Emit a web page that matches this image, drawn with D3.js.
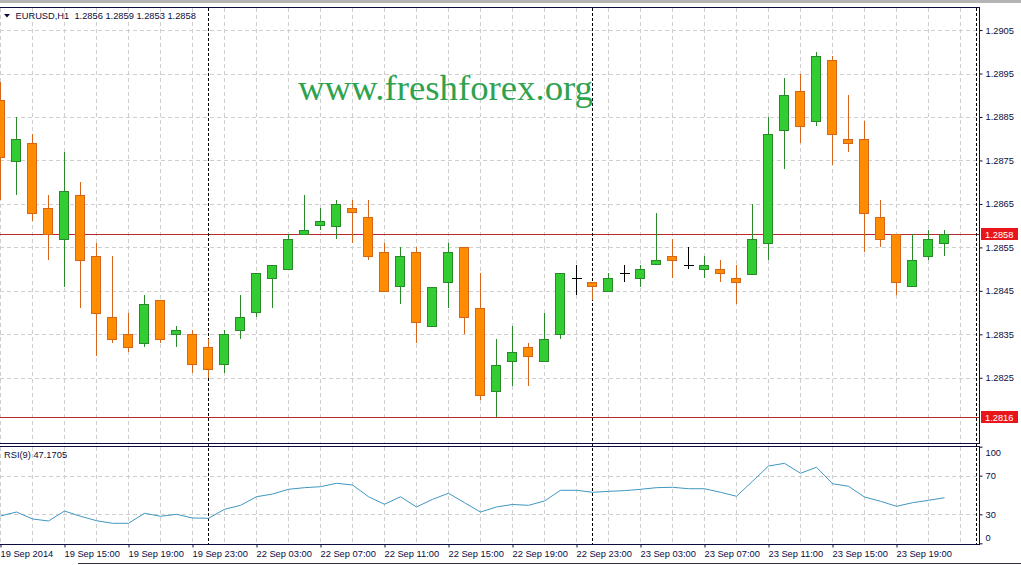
<!DOCTYPE html>
<html>
<head>
<meta charset="utf-8">
<script src="https://cdn.jsdelivr.net/npm/d3@7"></script>
<style>
  html, body { margin: 0; padding: 0; background: #fff; }
  svg { display: block; font-family: "Liberation Sans", Arial, sans-serif; }
</style>
</head>
<body>
<div id="chart"></div>
<script>
// EURUSD H1, 19 Sep 2014 11:00 .. 23 Sep 2014 22:00 (one value per candle)
const open = [1.2889, 1.2875, 1.2879, 1.2864, 1.2857, 1.2867, 1.2853, 1.2839, 1.2835, 1.2833,
  1.2843, 1.2835, 1.2835, 1.2832, 1.2828, 1.2836, 1.2840, 1.2848, 1.2850, 1.2858,
  1.2860, 1.2860, 1.2864, 1.2862, 1.2854, 1.2846, 1.2854, 1.2837, 1.2847, 1.2855,
  1.2841, 1.2822, 1.2829, 1.2832, 1.2829, 1.2835, 1.2848, 1.2847, 1.2845, 1.2849,
  1.2848, 1.2851, 1.2853, 1.2851, 1.2850, 1.2850, 1.2848, 1.2849, 1.2856, 1.2882,
  1.2891, 1.2884, 1.2898, 1.2880, 1.2880, 1.2862, 1.2858, 1.2846, 1.2853, 1.2856];
const high = [1.2893, 1.2885, 1.2881, 1.2867, 1.2877, 1.2870, 1.2856, 1.2853, 1.2840, 1.2844,
  1.2843, 1.2837, 1.2836, 1.2834, 1.2836, 1.2844, 1.2849, 1.2851, 1.2858, 1.2867,
  1.2864, 1.2866, 1.2866, 1.2866, 1.2856, 1.2855, 1.2855, 1.2846, 1.2856, 1.2855,
  1.2849, 1.2834, 1.2837, 1.2833, 1.2840, 1.2849, 1.2851, 1.2847, 1.2849, 1.2851,
  1.2851, 1.2863, 1.2857, 1.2855, 1.2853, 1.2852, 1.2851, 1.2865, 1.2885, 1.2894,
  1.2895, 1.2900, 1.2899, 1.2890, 1.2884, 1.2866, 1.2858, 1.2858, 1.2859, 1.2859];
const low = [1.2866, 1.2867, 1.2861, 1.2852, 1.2846, 1.2841, 1.2830, 1.2833, 1.2831, 1.2832,
  1.2833, 1.2832, 1.2826, 1.2825, 1.2826, 1.2834, 1.2839, 1.2841, 1.2850, 1.2858,
  1.2859, 1.2857, 1.2856, 1.2852, 1.2845, 1.2842, 1.2833, 1.2837, 1.2841, 1.2835,
  1.2820, 1.2816, 1.2823, 1.2823, 1.2829, 1.2834, 1.2844, 1.2843, 1.2845, 1.2847,
  1.2846, 1.2851, 1.2848, 1.2850, 1.2848, 1.2847, 1.2842, 1.2849, 1.2852, 1.2873,
  1.2879, 1.2883, 1.2874, 1.2877, 1.2854, 1.2855, 1.2844, 1.2846, 1.2852, 1.2853];
const close = [1.2876, 1.2880, 1.2863, 1.2858, 1.2868, 1.2852, 1.2840, 1.2834, 1.2832, 1.2842,
  1.2834, 1.2836, 1.2828, 1.2827, 1.2835, 1.2839, 1.2849, 1.2851, 1.2857, 1.2859,
  1.2861, 1.2865, 1.2863, 1.2853, 1.2845, 1.2853, 1.2838, 1.2846, 1.2854, 1.2839,
  1.2821, 1.2828, 1.2831, 1.2830, 1.2834, 1.2849, 1.2848, 1.2846, 1.2848, 1.2849,
  1.2850, 1.2852, 1.2852, 1.2851, 1.2851, 1.2849, 1.2847, 1.2857, 1.2881, 1.2890,
  1.2883, 1.2899, 1.2881, 1.2879, 1.2863, 1.2857, 1.2847, 1.2852, 1.2857, 1.2858];
const rsi = [28.3, 32.4, 25.2, 23.1, 33.4, 28.0, 23.4, 20.7, 20.7, 31.1,
  28.0, 30.0, 26.2, 25.9, 35.2, 39.3, 48.2, 51.0, 55.9, 57.6,
  58.6, 62.1, 60.4, 48.2, 40.4, 48.2, 37.6, 45.5, 51.8, 42.0,
  32.4, 37.6, 40.2, 39.3, 43.8, 54.9, 54.9, 52.8, 53.8, 54.5,
  55.9, 57.6, 58.0, 56.5, 56.5, 52.8, 48.7, 64.2, 80.0, 82.8,
  72.5, 78.7, 61.7, 59.0, 47.9, 43.5, 38.3, 42.0, 44.5, 47.1705];

const timeTickIndex = [0, 4, 8, 12, 16, 20, 24, 28, 32, 36, 40, 44, 48, 52, 56];
const timeTickLabels = ['19 Sep 2014', '19 Sep 15:00', '19 Sep 19:00', '19 Sep 23:00',
  '22 Sep 03:00', '22 Sep 07:00', '22 Sep 11:00', '22 Sep 15:00', '22 Sep 19:00',
  '22 Sep 23:00', '23 Sep 03:00', '23 Sep 07:00', '23 Sep 11:00', '23 Sep 15:00', '23 Sep 19:00'];
const priceTicks = [1.2825, 1.2835, 1.2845, 1.2855, 1.2865, 1.2875, 1.2885, 1.2895, 1.2905];
const rsiTicks = [0, 30, 70, 100];
const daySeparators = [13, 37, 61]; // first bar of 22 Sep, 23 Sep, 24 Sep
const levelLines = [1.2858, 1.2816];

const W = 1021, H = 565;
const right = 979.5;
const main = { top: 7.5, bottom: 443.5 };
const sub = { top: 446.5, bottom: 544.5 };
const ink = '#0c0c40';

const svg = d3.select('#chart').append('svg')
  .attr('width', W).attr('height', H);

svg.append('rect').attr('width', W).attr('height', H).attr('fill', '#fff');
svg.append('rect').attr('width', W).attr('height', 3).attr('fill', '#b4b4b4');

// scales
const x = d3.scaleLinear().domain([-0.5, 60.5]).range([-7.5, 968.5]);
const y = d3.scaleLinear().domain([1.2810, 1.29103]).range([443, 7]);
const yr = d3.scaleLinear().domain([0, 100]).range([543.3, 446.7]);

// grid
const grid = svg.append('g')
  .attr('stroke', '#cfcfcf').attr('stroke-dasharray', '4,3').attr('shape-rendering', 'crispEdges');
const gridIdx = d3.range(0, 61, 2);
[main, sub].forEach(p => {
  grid.selectAll(null).data(gridIdx).enter().append('line')
    .attr('x1', d => x(d)).attr('x2', d => x(d))
    .attr('y1', p.top).attr('y2', p.bottom);
});
grid.selectAll(null).data(priceTicks).enter().append('line')
  .attr('x1', 0).attr('x2', right)
  .attr('y1', d => Math.round(y(d)) + 0.5).attr('y2', d => Math.round(y(d)) + 0.5);
grid.selectAll(null).data([30, 70]).enter().append('line')
  .attr('x1', 0).attr('x2', right)
  .attr('y1', d => Math.round(yr(d)) + 0.5).attr('y2', d => Math.round(yr(d)) + 0.5);

// horizontal levels
svg.selectAll('.level').data(levelLines).enter().append('line')
  .attr('class', 'level')
  .attr('x1', 0).attr('x2', right)
  .attr('y1', d => Math.round(y(d)) + 0.5).attr('y2', d => Math.round(y(d)) + 0.5)
  .attr('stroke', '#b82a2a').attr('stroke-width', 1);

// period separators
svg.selectAll('.sep').data(daySeparators).enter().append('line')
  .attr('class', 'sep')
  .attr('x1', d => x(d)).attr('x2', d => x(d))
  .attr('y1', main.top).attr('y2', sub.bottom)
  .attr('stroke', '#000').attr('stroke-dasharray', '3,2')
  .attr('shape-rendering', 'crispEdges');

// candles
const bars = d3.range(open.length).map(i => ({
  i, o: open[i], h: high[i], l: low[i], c: close[i]
}));
const colour = d => d.c > d.o ? { fill: '#32cd32', line: '#2a8a2a' }
  : d.c < d.o ? { fill: '#ff8c00', line: '#d8661a' }
  : { fill: '#000', line: '#000' };

const cg = svg.append('g').attr('shape-rendering', 'crispEdges');
const candle = cg.selectAll('.candle').data(bars).enter().append('g').attr('class', 'candle');
candle.append('line')
  .attr('x1', d => x(d.i)).attr('x2', d => x(d.i))
  .attr('y1', d => y(d.h)).attr('y2', d => y(d.l))
  .attr('stroke', d => colour(d).line);
candle.filter(d => d.o !== d.c).append('rect')
  .attr('x', d => x(d.i) - 5)
  .attr('width', 9)
  .attr('y', d => Math.round(y(Math.max(d.o, d.c))) + 0.5)
  .attr('height', d => Math.max(1, Math.round(Math.abs(y(d.o) - y(d.c)))))
  .attr('fill', d => colour(d).fill)
  .attr('stroke', d => colour(d).line);
candle.filter(d => d.o === d.c).append('line')
  .attr('x1', d => x(d.i) - 5).attr('x2', d => x(d.i) + 5)
  .attr('y1', d => Math.round(y(d.o)) + 0.5).attr('y2', d => Math.round(y(d.o)) + 0.5)
  .attr('stroke', '#000');

// RSI line
svg.append('path')
  .datum(rsi)
  .attr('d', d3.line().x((d, i) => x(i)).y(d => yr(d)))
  .attr('fill', 'none')
  .attr('stroke', '#3f97c2')
  .attr('stroke-width', 1);

// panel borders
const frame = svg.append('g').attr('stroke', ink).attr('fill', 'none').attr('shape-rendering', 'crispEdges');
[main, sub].forEach(p => {
  frame.append('rect').attr('x', -2).attr('y', p.top)
    .attr('width', right + 2).attr('height', p.bottom - p.top);
});
svg.append('line').attr('x1', 78).attr('x2', W).attr('y1', 563.5).attr('y2', 563.5)
  .attr('stroke', '#303040');

// axes
function styleAxis(g) {
  g.select('.domain').remove();
  g.selectAll('.tick line').attr('stroke', ink);
  g.selectAll('.tick text').attr('fill', ink).style('font-size', '9.3px')
    .style('font-family', '"Liberation Sans", Arial, sans-serif');
}

svg.append('g')
  .attr('transform', `translate(${right},0)`)
  .call(d3.axisRight(y).tickValues(priceTicks).tickFormat(d3.format('.4f')).tickSize(3).tickPadding(3))
  .call(styleAxis);

svg.append('g')
  .attr('transform', `translate(${right},0)`)
  .call(d3.axisRight(yr).tickValues(rsiTicks).tickFormat(d3.format('d')).tickSize(3).tickPadding(3))
  .call(styleAxis)
  .call(g => g.selectAll('.tick text')
    .attr('dy', d => d === 100 ? '1em' : d === 0 ? '-0.35em' : '0.32em'));

svg.append('g')
  .attr('transform', `translate(0,${sub.bottom})`)
  .call(d3.axisBottom(x).tickValues(timeTickIndex)
    .tickFormat((d, k) => timeTickLabels[k]).tickSize(3).tickPadding(3))
  .call(styleAxis)
  .call(g => g.selectAll('.tick text').attr('text-anchor', 'start').attr('x', -0.5));

// price labels for the level lines
const tag = svg.selectAll('.tag').data(levelLines).enter().append('g')
  .attr('class', 'tag')
  .attr('transform', d => `translate(981,${Math.round(y(d))})`);
tag.append('rect').attr('x', 0).attr('y', -6).attr('width', 37).attr('height', 12).attr('fill', '#e8161b');
tag.append('text').attr('x', 4).attr('y', 3.5)
  .attr('fill', '#fff').style('font-size', '9.3px')
  .text(d => d3.format('.4f')(d));

// header texts
svg.append('path').attr('d', 'M4,14 L10,14 L7,17.5 Z').attr('fill', ink);
svg.append('text').attr('x', 15.5).attr('y', 19)
  .attr('fill', ink).style('font-size', '9.3px')
  .attr('xml:space', 'preserve')
  .text('EURUSD,H1  ' + [open, high, low, close].map(a => a[a.length - 1].toFixed(4)).join(' '));
svg.append('text').attr('x', 4).attr('y', 458)
  .attr('fill', ink).style('font-size', '9.3px')
  .text('RSI(9) ' + rsi[rsi.length - 1].toFixed(4));

// watermark
svg.append('text').attr('x', 298).attr('y', 100)
  .attr('fill', '#2fa24f')
  .attr('textLength', 295).attr('lengthAdjust', 'spacingAndGlyphs')
  .style('font-family', '"Liberation Serif", "Times New Roman", serif')
  .style('font-size', '35px')
  .text('www.freshforex.org');
</script>
</body>
</html>
